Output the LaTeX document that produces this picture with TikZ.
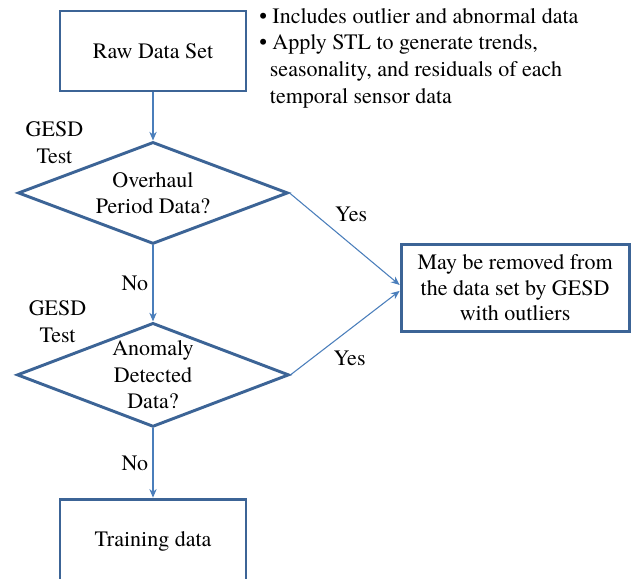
\documentclass[tikz,border=0pt]{standalone}
\usepackage{fontspec}
\setmainfont{TeX Gyre Termes}
\usetikzlibrary{arrows.meta,positioning,shapes.geometric}
\definecolor{boxblue}{HTML}{3C6496}
\definecolor{arrowblue}{HTML}{4A7EBB}

\begin{document}
\begin{tikzpicture}[x=0.75pt,y=-0.75pt,>={Stealth[length=6.5pt,width=5.5pt]},auto,
        font=\fontsize{16.5}{20}\selectfont,
        block/.style={draw=boxblue,line width=2.2pt,minimum width=139.5pt,align=center},
        decision/.style={diamond,draw=boxblue,line width=2.2pt,inner sep=0pt},
        every edge/.style={draw=arrowblue,line width=0.8pt}]
            \useasboundingbox (0,0) rectangle (631,578);
            \node[block, minimum height=60pt] (raw) at (153,51) {Raw Data Set};
            \node[decision, minimum width=202.5pt, minimum height=76.5pt] (overhaul) [below=36pt of raw] {};
            \node[decision, minimum width=204pt, minimum height=78pt] (anomaly) [below=57pt of overhaul] {};
            \node[block, minimum height=63.75pt] (train) [below=52pt of anomaly] {Training data};
            \node[block, minimum width=171pt, minimum height=65.25pt,
                  font=\fontsize{16.5}{19}\selectfont] (removed) [right=82.6pt of overhaul, yshift=-71.25pt]
                {May be removed from\\the data set by GESD\\with outliers};

            \node[align=center, font=\fontsize{16.5}{19}\selectfont] (overhaultxt) at (overhaul) {Overhaul\\Period Data?};
            \node[align=center] (anomalytxt) at (anomaly) {Anomaly\\Detected\\Data?};
            \node[align=center] (gesd1) at ([xshift=-73.9pt,yshift=-1.9pt]overhaul.north) {GESD\\Test};
            \node[align=center] (gesd2) at ([xshift=-71.6pt]anomaly.north) {GESD\\Test};
            \node[anchor=north west, inner sep=0pt, align=left] (notes) at (259,8)
                {\textbullet\ Includes outlier and abnormal data\\
                 \textbullet\ Apply STL to generate trends,\\
                 \hspace*{8pt}seasonality, and residuals of each\\
                 \hspace*{8pt}temporal sensor data};

            \path[->]
                (raw) edge (overhaul)
                (overhaul) edge node[swap] {No} (anomaly)
                (overhaul.east) edge node[pos=0.37] {Yes} ([yshift=2.25pt]removed.west)
                (anomaly) edge node[swap] {No} (train)
                (anomaly.east) edge node[pos=0.35, swap] {Yes} ([yshift=-2.25pt]removed.west);
        \end{tikzpicture}
\end{document}
